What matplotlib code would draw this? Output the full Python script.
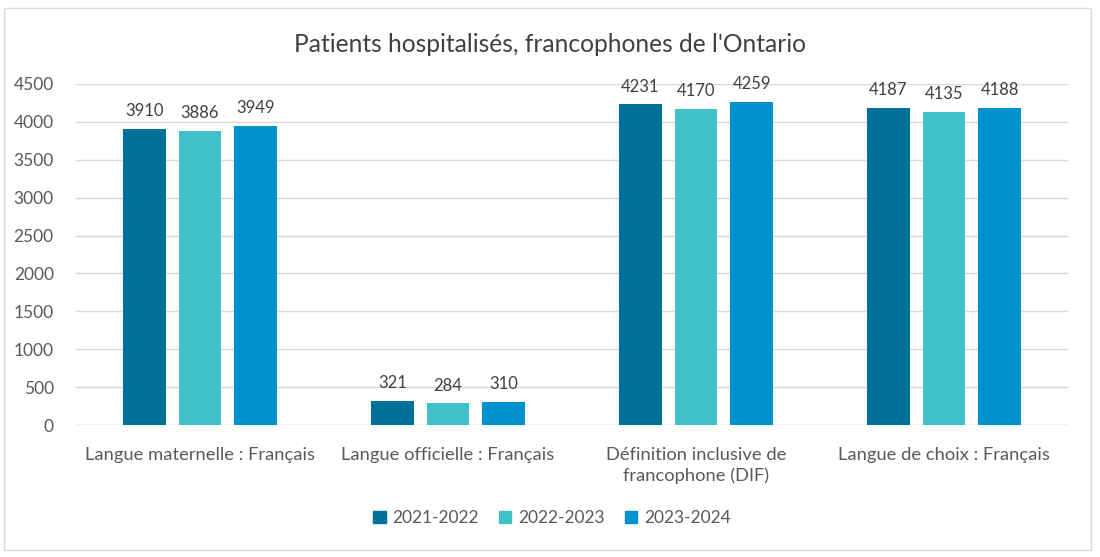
import matplotlib
matplotlib.use("Agg")
import matplotlib.pyplot as plt
import numpy as np
from matplotlib.patches import Rectangle

plt.rcParams['font.family'] = ['Lato', 'DejaVu Sans']

categories = ["Langue maternelle : Français", "Langue officielle : Français",
              "Définition inclusive de\nfrancophone (DIF)", "Langue de choix : Français"]
series_names = ["2021-2022", "2022-2023", "2023-2024"]
values = {
    "2021-2022": [3910, 321, 4231, 4187],
    "2022-2023": [3886, 284, 4170, 4135],
    "2023-2024": [3949, 310, 4259, 4188],
}
colors = ["#00719A", "#40C0C8", "#0091CF"]
yticks = [0, 500, 1000, 1500, 2000, 2500, 3000, 3500, 4000, 4500]

W, H = 1100, 557
fig = plt.figure(figsize=(W/100, H/100), dpi=100)
fig.patches.append(Rectangle((4/W, 1 - 550/H), (1091-4)/W, (550-8)/H,
                             transform=fig.transFigure, fill=False,
                             edgecolor="#D9D9D9", linewidth=1))
ax = fig.add_axes([76/W, 1 - 425/H, (1068-76)/W, (425-84)/H])

x = np.arange(len(categories))
pitch = 0.224
width = 0.173
for i, name in enumerate(series_names):
    pos = x + (i - 1) * pitch
    bars = ax.bar(pos, values[name], width, color=colors[i], label=name, zorder=3)
    for b, v in zip(bars, values[name]):
        ax.text(b.get_x() + b.get_width()/2, v + 130, str(v), ha='center', va='bottom',
                fontsize=12, color="#404040")

ax.set_xlim(-0.5, 3.5)
ax.set_ylim(0, 4500)
ax.set_yticks(yticks)
ax.set_yticklabels([str(t) for t in yticks], fontsize=12.5, color="#595959")
ax.set_xticks(x)
ax.set_xticklabels(categories, fontsize=13.2, color="#595959", linespacing=1.3)
ax.tick_params(axis='x', length=0, pad=16)
ax.tick_params(axis='y', length=0, pad=16)
ax.yaxis.grid(True, color="#D9D9D9", linewidth=1, zorder=0)
for s in ax.spines.values():
    s.set_visible(False)
ax.axhline(0, color="#D9D9D9", linewidth=1, zorder=2)

fig.text(550/W, 1 - 45/H, "Patients hospitalisés, francophones de l'Ontario",
         ha='center', va='center', fontsize=17.7, color="#404040")

handles = [Rectangle((0, 0), 1, 1, color=c) for c in colors]
fig.legend(handles, series_names, loc='center', bbox_to_anchor=(552/W, 1 - 518/H),
           ncol=3, frameon=False, fontsize=12.5, handlelength=0.7, handleheight=0.7,
           handletextpad=0.4, columnspacing=1.15, labelcolor="#595959")

fig.savefig("out.png", dpi=100, facecolor="white")
